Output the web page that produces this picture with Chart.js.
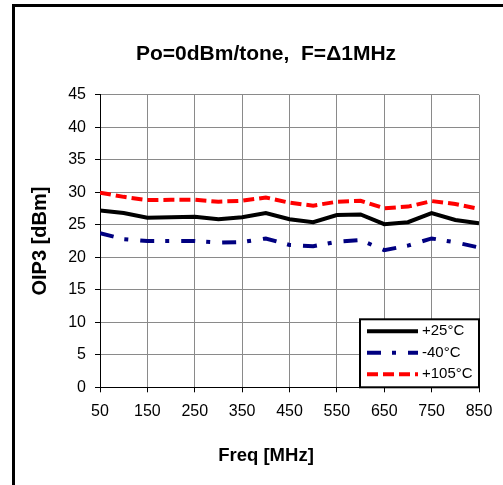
<!DOCTYPE html>
<html>
<head>
<meta charset="utf-8">
<script src="https://cdn.jsdelivr.net/npm/chart.js@4.4.0/dist/chart.umd.min.js"></script>
<style>
  html, body { margin: 0; padding: 0; background: #fff; overflow: hidden; }
  #frame { position: absolute; left: 12px; top: 4px; width: 502px; height: 500px; border: 3px solid #000; background: #fff; }
  #frame canvas { display: block; }
</style>
</head>
<body>
<div id="frame"><canvas id="oip3Chart" width="502" height="480"></canvas></div>
<script>
// frequencies in MHz
const freqs = [50, 100, 150, 200, 250, 300, 350, 400, 450, 500, 550, 600, 650, 700, 750, 800, 850];
const seriesNames = ['+25°C', '-40°C', '+105°C'];
// OIP3 [dBm]
const oip3_25  = [27.2, 26.8, 26.1, 26.15, 26.25, 25.85, 26.15, 26.8, 25.85, 25.4, 26.5, 26.6, 25.1, 25.4, 26.8, 25.75, 25.25];
const oip3_m40 = [23.7, 22.8, 22.5, 22.5, 22.5, 22.25, 22.35, 22.9, 21.9, 21.7, 22.4, 22.65, 21.1, 21.8, 22.9, 22.3, 21.5];
const oip3_105 = [29.95, 29.3, 28.8, 28.85, 28.85, 28.55, 28.7, 29.2, 28.4, 27.95, 28.55, 28.7, 27.55, 27.8, 28.65, 28.2, 27.45];
const yMin = 0, yMax = 45, yStep = 5;
const xMin = 50, xMax = 850, xStep = 100;

const font = '"Liberation Sans", Arial, sans-serif';

function points(vals) {
    return freqs.map((f, i) => ({ x: f, y: vals[i] }));
}

// boxed legend sitting in the bottom-right corner of the plot
const boxLegend = {
    id: 'boxLegend',
    afterDatasetsDraw(chart) {
        const { ctx, chartArea } = chart;
        const w = 119, h = 68;
        const left = chartArea.right - w;
        const top = chartArea.bottom - h;
        ctx.save();
        ctx.fillStyle = '#fff';
        ctx.fillRect(left, top, w, h);
        ctx.lineWidth = 2;
        ctx.strokeStyle = '#000';
        ctx.strokeRect(left, top, w, h);
        ctx.font = '15px ' + font;
        ctx.textBaseline = 'middle';
        chart.data.datasets.forEach((ds, i) => {
            const y = top + 12 + i * 21.5;
            ctx.beginPath();
            ctx.setLineDash(ds.borderDash || []);
            ctx.lineWidth = ds.borderWidth;
            ctx.strokeStyle = ds.borderColor;
            ctx.moveTo(left + 7, y);
            ctx.lineTo(left + 58, y);
            ctx.stroke();
            ctx.setLineDash([]);
            ctx.fillStyle = '#000';
            ctx.fillText(ds.label, left + 62, y);
        });
        ctx.restore();
    }
};

const ctx = document.getElementById('oip3Chart').getContext('2d');
const oip3Chart = new Chart(ctx, {
    type: 'line',
    data: {
        datasets: [{
            label: seriesNames[0],
            data: points(oip3_25),
            borderColor: '#000000',
            borderWidth: 4
        }, {
            label: seriesNames[1],
            data: points(oip3_m40),
            borderColor: '#000080',
            borderWidth: 4,
            borderDash: [14, 11, 4, 12]
        }, {
            label: seriesNames[2],
            data: points(oip3_105),
            borderColor: '#ff0000',
            borderWidth: 4,
            borderDash: [11, 5]
        }]
    },
    options: {
        responsive: false,
        animation: false,
        layout: { padding: 0 },
        elements: {
            point: { radius: 0 },
            line: { tension: 0, fill: false }
        },
        plugins: {
            legend: { display: false },
            tooltip: { enabled: false },
            title: {
                display: true,
                text: 'Po=0dBm/tone,  F=\u03941MHz',
                color: '#000',
                font: { family: font, size: 21, weight: 'bold' },
                padding: { top: 35, bottom: 27.6 }
            },
            subtitle: {
                display: true,
                position: 'bottom',
                text: 'Freq [MHz]',
                color: '#000',
                font: { family: font, size: 18.5, weight: 'bold' },
                padding: { top: 0, bottom: 19.5 }
            }
        },
        scales: {
            x: {
                type: 'linear',
                min: xMin,
                max: xMax,
                ticks: {
                    stepSize: xStep,
                    color: '#000',
                    padding: 10,
                    maxRotation: 0,
                    font: { family: font, size: 16 }
                },
                grid: { color: '#8a8a8a', tickColor: '#000', tickLength: 5 },
                border: { color: '#000', width: 1 },
                afterFit(scale) { scale.height = 58; }
            },
            y: {
                min: yMin,
                max: yMax,
                ticks: {
                    stepSize: yStep,
                    color: '#000',
                    padding: 9,
                    font: { family: font, size: 16 }
                },
                grid: { color: '#8a8a8a', tickColor: '#000', tickLength: 5 },
                border: { color: '#000', width: 1 },
                title: {
                    display: true,
                    text: 'OIP3 [dBm]',
                    color: '#000',
                    font: { family: font, size: 20, weight: 'bold' },
                    padding: { top: 13, bottom: 0 }
                },
                afterFit(scale) { scale.width = 85; }
            },
            // empty right-hand space so the titles centre on the whole frame
            spacer: {
                type: 'linear',
                position: 'right',
                display: true,
                grid: { display: false },
                ticks: { display: false },
                border: { display: false },
                afterFit(scale) { scale.width = 38; }
            }
        }
    },
    plugins: [boxLegend]
});
</script>
</body>
</html>
